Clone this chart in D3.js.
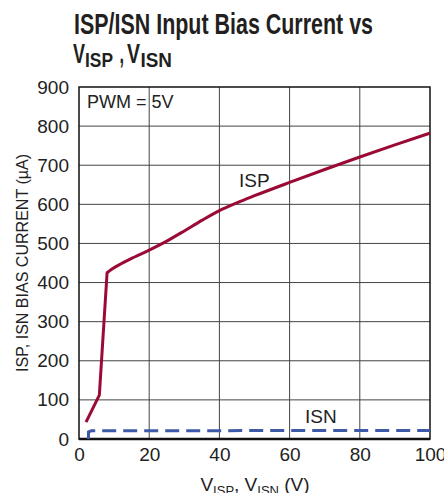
<!DOCTYPE html>
<html><head><meta charset="utf-8">
<script src="https://cdn.jsdelivr.net/npm/d3@7"></script>
<style>html,body{margin:0;padding:0;background:#fff;}svg{display:block;}</style>
</head><body>
<script>
const ispV = [2, 5.8, 8, 9, 12, 16, 20, 25, 30, 35, 40, 45, 50, 60, 70, 80, 90, 100];
const ispI = [43, 112, 425, 432, 448, 466, 483, 506, 532, 559, 584, 604, 622, 656, 689, 721, 752, 782];
const isnV = [2.7, 2.7, 3.5, 100];
const isnI = [0, 18, 21, 22];
const xTicks = [0, 20, 40, 60, 80, 100];
const yTicks = [0, 100, 200, 300, 400, 500, 600, 700, 800, 900];

const W = 444, H = 493;
const m = {left: 79, right: 14, top: 87, bottom: 54};
const svg = d3.select("body").append("svg").attr("width", W).attr("height", H);
const FONT = "'Liberation Sans Narrow','Liberation Sans',Arial,sans-serif";

const x = d3.scaleLinear().domain([0, 100]).range([m.left, W - m.right]);
const y = d3.scaleLinear().domain([0, 900]).range([H - m.bottom, m.top]);

// grid
svg.append("g").selectAll("line").data(xTicks.slice(1, -1)).join("line")
  .attr("x1", d => x(d)).attr("x2", d => x(d)).attr("y1", y(0)).attr("y2", y(900))
  .attr("stroke", "#444").attr("stroke-width", 1);
svg.append("g").selectAll("line").data(yTicks.slice(1, -1)).join("line")
  .attr("x1", x(0)).attr("x2", x(100)).attr("y1", d => y(d)).attr("y2", d => y(d))
  .attr("stroke", "#444").attr("stroke-width", 1);
svg.append("rect").attr("x", x(0)).attr("y", y(900)).attr("width", x(100) - x(0)).attr("height", y(0) - y(900))
  .attr("fill", "none").attr("stroke", "#111").attr("stroke-width", 1.5);
svg.append("line").attr("x1", x(0)).attr("x2", x(100)).attr("y1", y(0)).attr("y2", y(0))
  .attr("stroke", "#111").attr("stroke-width", 2.5);

// axes labels via d3 axes
const xa = svg.append("g").attr("transform", `translate(0,${y(0)})`)
  .call(d3.axisBottom(x).tickValues(xTicks).tickSize(0).tickPadding(9));
xa.select(".domain").remove();
xa.selectAll("text").attr("font-family", FONT).attr("font-size", 19).attr("fill", "#222");
const ya = svg.append("g").attr("transform", `translate(${x(0)},0)`)
  .call(d3.axisLeft(y).tickValues(yTicks).tickSize(0).tickPadding(10));
ya.select(".domain").remove();
ya.selectAll("text").attr("font-family", FONT).attr("font-size", 19).attr("fill", "#222");

// lines
const lin = d3.line().x(d => x(d[0])).y(d => y(d[1]));
const smooth = d3.line().x(d => x(d[0])).y(d => y(d[1])).curve(d3.curveMonotoneX);
svg.append("path").datum(isnV.map((v, i) => [v, isnI[i]]))
  .attr("d", lin).attr("fill", "none").attr("stroke", "#3d5aa8").attr("stroke-width", 3)
  .attr("stroke-dasharray", "14,7");
const ispPts = ispV.map((v, i) => [v, ispI[i]]);
svg.append("path").attr("d", lin(ispPts.slice(0, 3)) + smooth(ispPts.slice(2)).replace(/^M/, "L"))
  .attr("fill", "none").attr("stroke", "#9a0a35").attr("stroke-width", 3)
  .attr("stroke-linejoin", "round");

// annotations
svg.append("text").attr("x", 87).attr("y", 108).attr("font-family", FONT).attr("font-size", 18).attr("fill", "#222").text("PWM = 5V");
svg.append("text").attr("x", 239).attr("y", 187).attr("font-family", FONT).attr("font-size", 19).attr("fill", "#222").text("ISP");
svg.append("text").attr("x", 305).attr("y", 423).attr("font-family", FONT).attr("font-size", 19).attr("fill", "#222").text("ISN");

// title
const tAttr = (xx, yy, size, len, txt) => svg.append("text").attr("x", xx).attr("y", yy)
  .attr("font-family", FONT).attr("font-weight", "bold").attr("font-size", size).attr("fill", "#231f20")
  .attr("textLength", len).attr("lengthAdjust", "spacingAndGlyphs").text(txt);
tAttr(74, 34, 29, 299, "ISP/ISN Input Bias Current vs");
tAttr(73, 63, 28, 12, "V");
tAttr(85, 67, 20, 28, "ISP");
tAttr(119.5, 63, 28, 4.5, ",");
tAttr(127, 63, 28, 13, "V");
tAttr(140.5, 67, 20, 31.5, "ISN");

// y axis title
svg.append("text").attr("transform", `translate(28,${(y(0) + y(900)) / 2}) rotate(-90)`)
  .attr("text-anchor", "middle").attr("font-family", FONT).attr("font-size", 16.5).attr("fill", "#222")
  .attr("textLength", 218).attr("lengthAdjust", "spacingAndGlyphs")
  .text("ISP, ISN BIAS CURRENT (µA)");
// x axis title
const xt = svg.append("text").attr("x", 255).attr("y", 491).attr("text-anchor", "middle")
  .attr("font-family", FONT).attr("font-size", 19).attr("fill", "#222");
xt.append("tspan").text("V");
xt.append("tspan").attr("font-size", 13).attr("dy", 4).text("ISP");
xt.append("tspan").attr("dy", -4).text(", V");
xt.append("tspan").attr("font-size", 13).attr("dy", 4).text("ISN");
xt.append("tspan").attr("dy", -4).text(" (V)");
</script>
</body></html>
